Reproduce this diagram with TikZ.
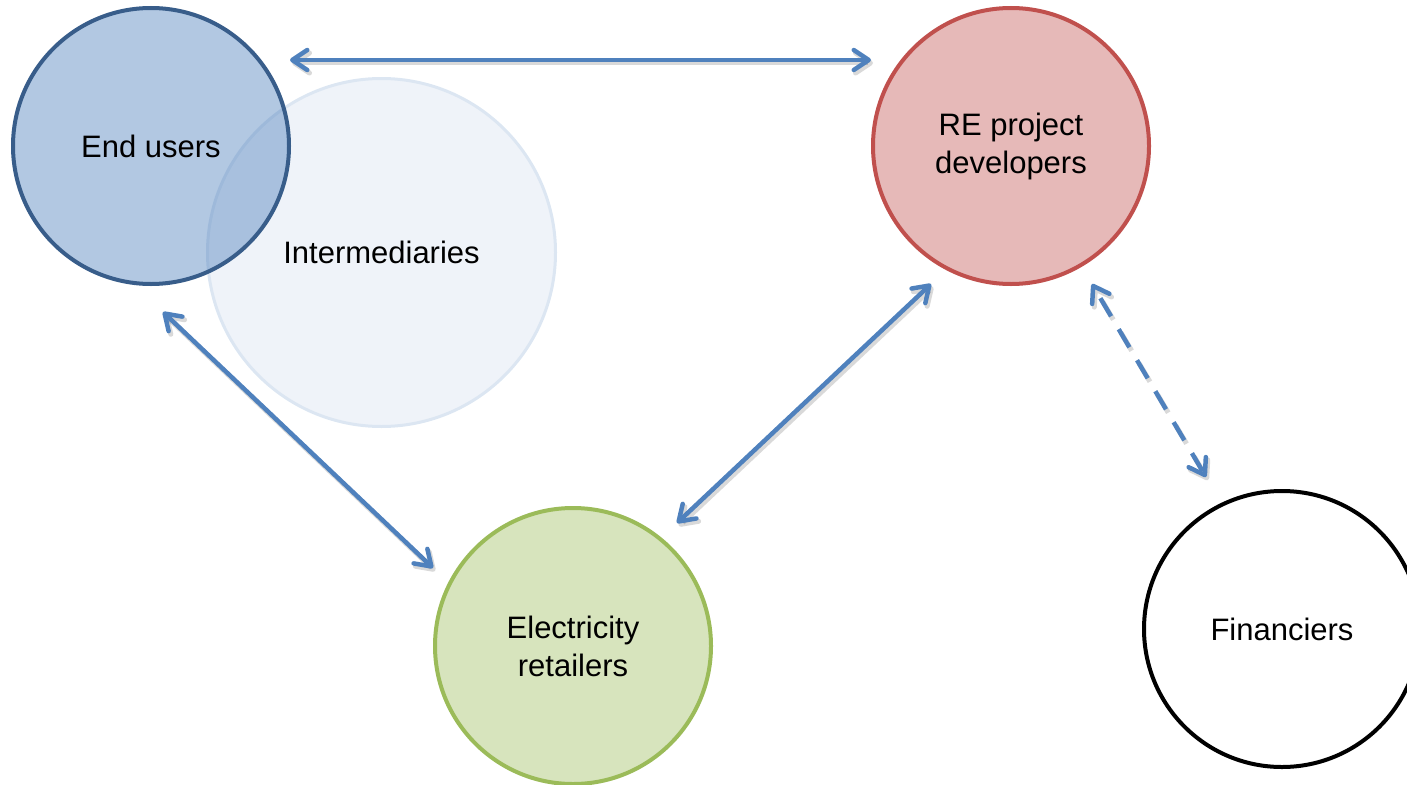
\documentclass[tikz,border=0pt]{standalone}
\usepackage{fontspec}
\setmainfont{Liberation Sans}
\usetikzlibrary{arrows.meta}
\definecolor{arrowblue}{HTML}{4F81BD}
\definecolor{userfill}{HTML}{4F81BD}
\definecolor{userline}{HTML}{385D8A}
\definecolor{interfill}{HTML}{EFF3F9}
\definecolor{interline}{HTML}{DCE6F2}
\definecolor{refill}{HTML}{E6B9B8}
\definecolor{reline}{HTML}{C0504D}
\definecolor{retfill}{HTML}{D7E4BD}
\definecolor{retline}{HTML}{9BBB59}
\tikzset{
  actor/.style={circle, minimum size=276pt, inner sep=0pt, line width=4pt,
    align=center, font=\fontsize{31}{38}\selectfont},
  barbs/.style={{Straight Barb[length=15pt,width=20pt,round]}-{Straight Barb[length=15pt,width=20pt,round]}},
  conn/.style={line width=4.5pt, draw=arrowblue, barbs},
  connshadow/.style={line width=5pt, draw=black, draw opacity=0.15,
    transform canvas={shift={(2pt,-3pt)}}, barbs},
  dashpat/.style={dash pattern=on 21pt off 15pt, dash phase=-12pt}
}
\begin{document}
\begin{tikzpicture}[x=1pt, y=-1pt]
\useasboundingbox (0,0) rectangle (1407,784);

% actors
\node[actor, minimum size=348pt, line width=3pt, fill=interfill, draw=interline] (int) at (381.5,252.5) {Intermediaries};
\node[actor, draw=userline, fill=userfill, fill opacity=0.44, text opacity=1] (eu) at (151,146) {};
\node[font=\fontsize{31}{38}\selectfont] (eulabel) at (eu.center) {End users};
\node[actor, draw=reline, fill=refill] (re) at (1011,146) {RE project\\developers};
\node[actor, draw=retline, fill=retfill] (ret) at (573,646) {Electricity\\retailers};
\node[actor, draw=black, fill=white] (fin) at (1282,629) {Financiers};

% connector end points
\path (eu.center)  ++(139,-86)  coordinate (eu-e);
\path (re.center)  ++(-140,-86) coordinate (re-w);
\path (eu.center)  ++(12,166)   coordinate (eu-s);
\path (ret.center) ++(-140,-78) coordinate (ret-w);
\path (ret.center) ++(104,-123) coordinate (ret-n);
\path (re.center)  ++(-80,138)  coordinate (re-sw);
\path (re.center)  ++(81,138)   coordinate (re-se);
\path (fin.center) ++(-76,-152) coordinate (fin-n);

% shadows of the connectors
\draw[connshadow] (eu-e) -- (re-w);
\draw[connshadow] (eu-s) -- (ret-w);
\draw[connshadow] (ret-n) -- (re-sw);
\draw[connshadow, dashpat] (re-se) -- (fin-n);

% connectors
\draw[conn] (eu-e) -- (re-w);
\draw[conn] (eu-s) -- (ret-w);
\draw[conn] (ret-n) -- (re-sw);
\draw[conn, dashpat] (re-se) -- (fin-n);
\end{tikzpicture}
\end{document}
